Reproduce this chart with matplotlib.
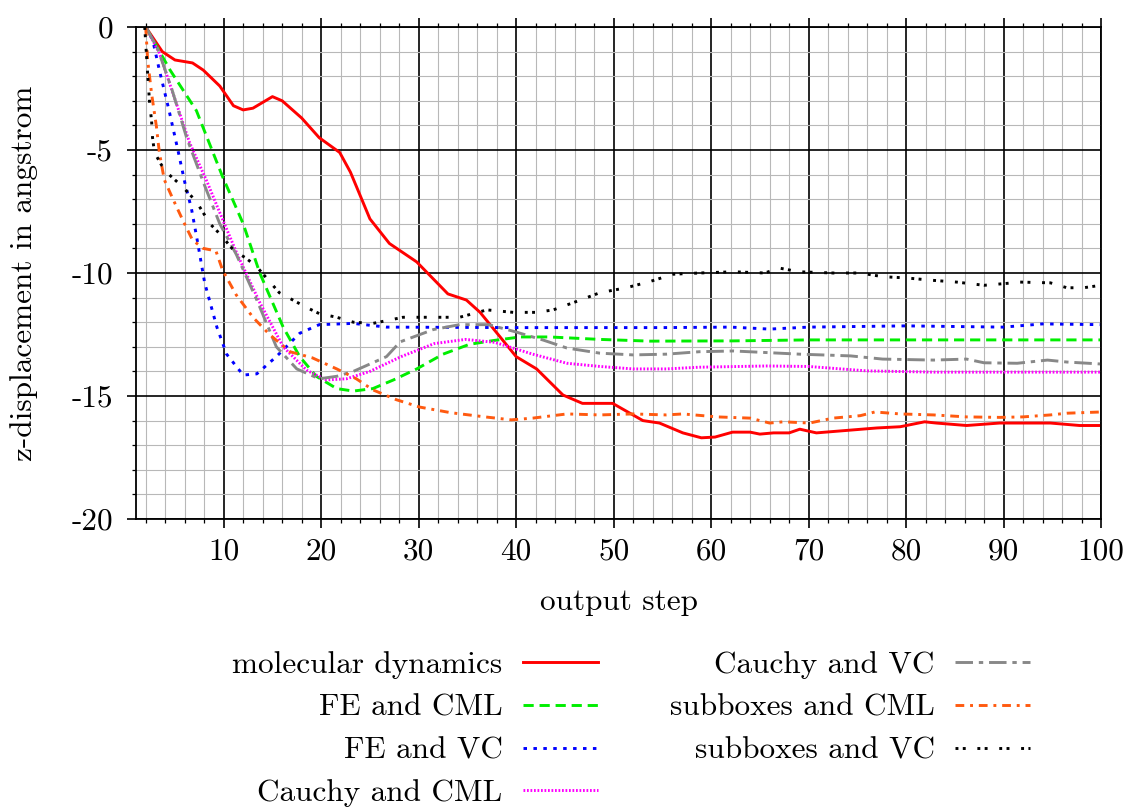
import matplotlib
matplotlib.use("Agg")
import matplotlib.pyplot as plt
import numpy as np

# molecular dynamics
md_x = [2, 3.7, 5, 6.8, 7.9, 9.6, 11, 12, 13, 15, 16, 18, 19.8, 21.2, 21.9, 23, 25, 27, 29.8,
        33, 34.9, 36.3, 40, 42.1, 44.8, 46.8, 49.9, 53, 54.7, 57.1, 59, 60.4, 62.2, 64, 65,
        66.4, 68, 69.1, 70.8, 73.9, 77, 79.4, 81.9, 83.1, 86.2, 89.6, 93, 94.8, 97.8, 100]
md_y = [0, -1.0, -1.34, -1.46, -1.75, -2.4, -3.2, -3.37, -3.3, -2.83, -3.0, -3.7, -4.5, -4.9,
        -5.1, -5.9, -7.8, -8.8, -9.55, -10.85, -11.1, -11.6, -13.4, -13.9, -14.96, -15.3,
        -15.3, -16.0, -16.1, -16.5, -16.7, -16.67, -16.47, -16.47, -16.55, -16.5, -16.5,
        -16.35, -16.5, -16.4, -16.3, -16.25, -16.05, -16.1, -16.2, -16.1, -16.1, -16.1,
        -16.2, -16.2]

# FE and CML
fec_x = [2, 4.5, 7.2, 9.9, 10.9, 12, 13.7, 16.1, 17.8, 19.5, 21.6, 23.3, 25.3, 27.4, 29.8,
         32.5, 35.2, 37.6, 40.4, 43.4, 48.6, 53.7, 62.3, 70, 80, 90, 100]
fec_y = [0, -1.75, -3.4, -6.1, -7.0, -8.0, -10.0, -12.2, -13.4, -14.2, -14.7, -14.8, -14.7,
         -14.35, -13.9, -13.3, -12.9, -12.75, -12.6, -12.6, -12.7, -12.77, -12.76, -12.72,
         -12.72, -12.72, -12.72]

# FE and VC
fev_x = [2, 2.7, 3.4, 4.4, 5.3, 6, 6.7, 7.3, 8.05, 9.3, 10.3, 12, 13.4, 15.4, 17.8, 19.8,
         23.3, 26.7, 40, 55, 62, 66, 70, 80, 90, 94, 100]
fev_y = [0, -0.5, -1.75, -3.4, -5.0, -6.3, -7.4, -8.7, -10.4, -12.2, -13.3, -14.15, -14.1,
         -13.4, -12.45, -12.1, -12.05, -12.2, -12.22, -12.22, -12.2, -12.28, -12.2, -12.15,
         -12.2, -12.07, -12.1]

# Cauchy and CML
cc_x = [2, 3.4, 4.8, 6.5, 8.3, 9.6, 11.4, 13.7, 16.1, 18.5, 20.5, 22.6, 25, 28.2, 31.6,
        34.8, 37.8, 41.7, 45.2, 48.6, 52, 55.4, 58.8, 65.7, 70, 76, 82.8, 90, 100]
cc_y = [0, -1.06, -2.7, -4.7, -6.3, -7.55, -9.25, -11.2, -13.0, -13.95, -14.35, -14.3, -14.0,
        -13.4, -12.87, -12.7, -12.82, -13.3, -13.67, -13.8, -13.9, -13.9, -13.83, -13.78,
        -13.8, -13.98, -14.03, -14.03, -14.03]

# Cauchy and VC
cv_x = [2, 3.2, 4.7, 6.2, 7.9, 9.6, 11.3, 13.4, 15.4, 17.5, 19.8, 21.6, 23.3, 26.7, 28.1,
        31.5, 34.2, 37.2, 40, 42.8, 45.2, 48.6, 52, 55.4, 58.8, 62.3, 69.1, 74.3, 77.6, 82.8,
        86.2, 88, 91.4, 94.5, 96.5, 100]
cv_y = [0, -0.85, -2.55, -4.5, -6.3, -8.0, -9.25, -11.1, -13.0, -13.9, -14.3, -14.2, -14.0,
        -13.4, -12.8, -12.3, -12.1, -12.1, -12.4, -12.73, -13.05, -13.26, -13.33, -13.3,
        -13.2, -13.17, -13.3, -13.37, -13.5, -13.54, -13.5, -13.65, -13.67, -13.54, -13.62,
        -13.7]

# subboxes and CML
sc_x = [2, 2.2, 2.6, 3.1, 3.4, 3.9, 4.8, 5.8, 6.8, 7.9, 9.2, 9.9, 11.3, 13, 14.7, 16.8, 19.1,
        21.6, 23.6, 25.3, 27.7, 30.1, 33.3, 36.8, 39.5, 41.7, 45.2, 48.6, 52, 55.4, 57.1,
        60.6, 64, 66, 67.4, 70.1, 72.5, 75.3, 76.8, 79.4, 82.8, 86.2, 89.6, 92, 94.8, 96.5,
        100]
sc_y = [0, -1.35, -2.7, -4.05, -5.1, -6.2, -7.0, -7.85, -8.66, -9.0, -9.1, -9.9, -10.9,
        -11.8, -12.5, -13.2, -13.45, -13.9, -14.3, -14.75, -15.15, -15.45, -15.68, -15.85,
        -15.97, -15.9, -15.73, -15.77, -15.73, -15.77, -15.73, -15.85, -15.9, -16.1, -16.05,
        -16.1, -15.9, -15.8, -15.65, -15.73, -15.77, -15.85, -15.87, -15.85, -15.77, -15.7,
        -15.65]

# subboxes and VC
sv_x = [1.9, 2, 2.2, 2.4, 2.6, 2.7, 2.9, 3.6, 4.4, 5.8, 7.2, 8.6, 9.7, 11, 12.3, 13.4, 15.7,
        17.1, 18.5, 19.8, 21.6, 23.3, 25.3, 28.4, 31.8, 34.2, 37, 39.7, 42.1, 43.8, 45.9,
        48.6, 51.3, 53.7, 56.1, 58.8, 62.3, 65.5, 67, 69, 72.5, 75.3, 77.6, 80, 82.8, 85.2,
        88, 90.4, 91.7, 94.8, 96.5, 98.2, 100]
sv_y = [0, -0.65, -1.9, -3.1, -3.8, -4.5, -5.1, -5.6, -6.0, -6.5, -7.1, -8.0, -8.45, -9.07,
        -9.4, -9.75, -10.8, -11.1, -11.4, -11.65, -11.8, -12.0, -12.05, -11.8, -11.8, -11.8,
        -11.5, -11.6, -11.6, -11.5, -11.2, -10.8, -10.6, -10.35, -10.05, -10.0, -9.95, -10.0,
        -9.8, -9.95, -10.0, -10.0, -10.15, -10.2, -10.3, -10.37, -10.5, -10.42, -10.37,
        -10.4, -10.6, -10.6, -10.5]

plt.rcParams.update({'font.family': 'cmr10', 'font.size': 22.5,
                     'axes.unicode_minus': False, 'axes.formatter.use_mathtext': False})

fig = plt.figure(figsize=(11.33, 8.09), dpi=100)
ax = fig.add_axes([0.120, 0.3585, 0.8518, 0.6081])

lw = 2.1
ax.plot(md_x, md_y, color='#ff0000', lw=lw, label='molecular dynamics')
ax.plot(fec_x, fec_y, color='#00ee00', lw=lw, dashes=(3.5, 2), label='FE and CML')
ax.plot(fev_x, fev_y, color='#0000ff', lw=lw, dashes=(1.2, 2.2), label='FE and VC')
ax.plot(cc_x, cc_y, color='#ff00ff', lw=lw, dashes=(0.6, 0.6), label='Cauchy and CML')
ax.plot(cv_x, cv_y, color='#888888', lw=lw, dashes=(6, 2, 1.5, 2), label='Cauchy and VC')
ax.plot(sc_x, sc_y, color='#ff5a10', lw=lw, dashes=(3, 2, 1, 2), label='subboxes and CML')
ax.plot(sv_x, sv_y, color='#000000', lw=lw, dashes=(1, 1.5, 1, 4), label='subboxes and VC')

ax.set_xlim(1, 100)
ax.set_ylim(-20, 0)
ax.set_xticks(np.arange(10, 101, 10))
ax.set_xticks(np.arange(2, 101, 2), minor=True)
ax.set_yticks([0, -5, -10, -15, -20])
ax.set_yticklabels(['0', '-5', '-10', '-15', '-20'])
ax.set_yticks(np.arange(-20, 1, 1), minor=True)

ax.set_axisbelow(True)
ax.grid(True, which='major', color='black', lw=1.2)
ax.grid(True, which='minor', color='#b8b8b8', lw=0.8)
for s in ax.spines.values():
    s.set_linewidth(1.3)

ax.tick_params(which='both', direction='out', top=True, right=False)
ax.tick_params(which='major', length=6.5, width=1.2)
ax.tick_params(which='minor', length=3, width=0.9)
ax.tick_params(axis='x', which='major', pad=7)
ax.tick_params(axis='y', which='major', pad=10)

ax.set_xlabel('output step', labelpad=16)
ax.set_ylabel('z-displacement in angstrom', labelpad=24)

fig.legend(loc='upper center', bbox_to_anchor=(0.557, 1 - 635 / 809), ncol=2,
           frameon=False, markerfirst=False, handlelength=2.4, handletextpad=0.65,
           columnspacing=2.3, labelspacing=0.48, borderpad=0)

fig.savefig('out.png', dpi=100)
